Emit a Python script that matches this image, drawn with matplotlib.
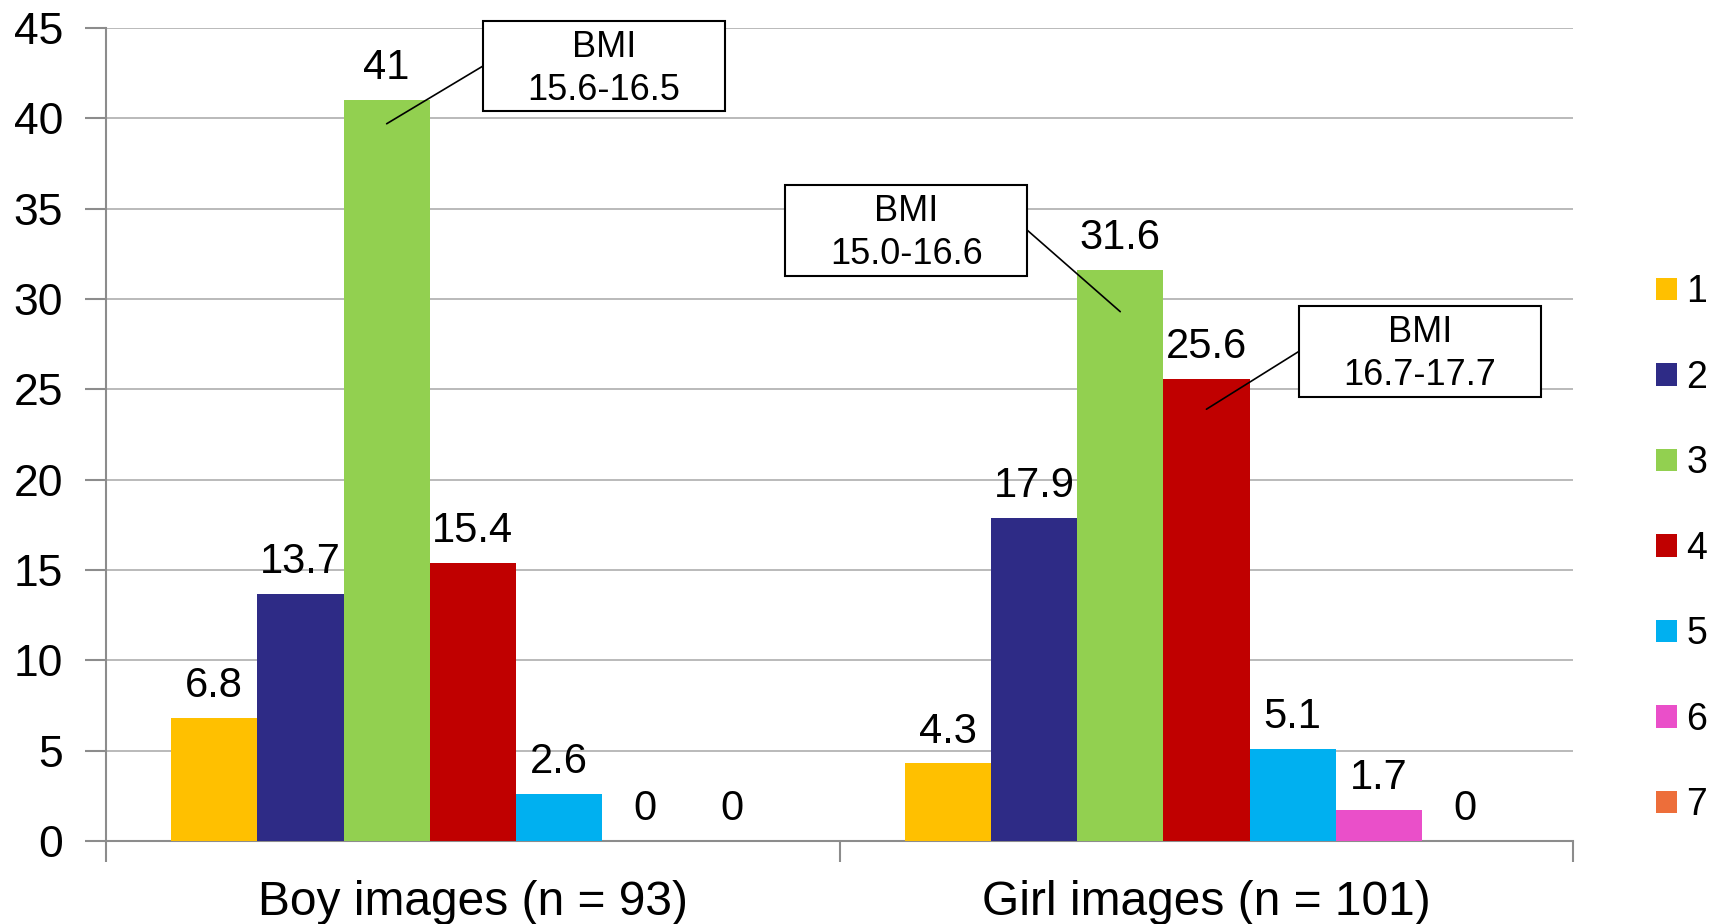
import numpy as np
import matplotlib
matplotlib.use("Agg")
import matplotlib.pyplot as plt
from matplotlib.patches import Rectangle

plt.rcParams['font.family'] = ['Liberation Sans', 'DejaVu Sans']

# data
groups = ['Boy images (n = 93)', 'Girl images (n = 101)']
series = ['1', '2', '3', '4', '5', '6', '7']
boy = [6.8, 13.7, 41, 15.4, 2.6, 0, 0]
girl = [4.3, 17.9, 31.6, 25.6, 5.1, 1.7, 0]
colors = ['#FFC000', '#2E2B86', '#92D050', '#C00000', '#00B0F0', '#EA4FC9', '#ED6E3A']

# BMI callouts: text, group, series index, box centre, point on bar, side of box
callouts = [
    ('BMI\n15.6-16.5', 0, 2, (0.179, 42.9), 39.7, 'left'),
    ('BMI\n15.0-16.6', 1, 2, (0.591, 33.8), 29.3, 'right'),
    ('BMI\n16.7-17.7', 1, 3, (1.291, 27.1), 23.9, 'left'),
]

fig = plt.figure(figsize=(17.19, 9.24), dpi=100)
ax = fig.add_axes([0.0617, 0.0898, 0.8535, 0.8799])

w = 0.1175
x = np.arange(len(groups))
values = np.array([boy, girl])
handles = []
for i, s in enumerate(series):
    pos = x + (i - 3) * w
    b = ax.bar(pos, values[:, i], width=w, color=colors[i], label=s, zorder=3)
    handles.append(b)
    for xp, v in zip(pos, values[:, i]):
        ax.annotate(f'{v:g}', (xp, v), xytext=(0, 15), textcoords='offset points',
                    ha='center', va='baseline', fontsize=30, zorder=5)

# axes styling
ax.set_ylim(0, 45)
ax.set_xlim(-0.5, 1.5)
ax.set_yticks(np.arange(0, 46, 5))
ax.yaxis.grid(True, color='#B4B4B4', lw=1.3, zorder=0)
ax.set_axisbelow(True)
ax.tick_params(axis='y', labelsize=32, length=15, width=1.5, color='#8C8C8C', pad=16)
ax.set_xticks([-0.5, 0.5, 1.5])
ax.set_xticklabels([])
ax.set_xticks(x, minor=True)
ax.set_xticklabels(groups, minor=True, fontsize=34.5)
ax.tick_params(axis='x', which='major', length=15, width=1.5, color='#8C8C8C')
ax.tick_params(axis='x', which='minor', length=0, pad=28)
for sp in ['top', 'right']:
    ax.spines[sp].set_visible(False)
for sp in ['left', 'bottom']:
    ax.spines[sp].set_color('#8C8C8C')
    ax.spines[sp].set_linewidth(1.5)

# callout boxes
bw, bh = 0.33, 5.0
for txt, g, si, (cx, cy), yend, side in callouts:
    ax.add_patch(Rectangle((cx - bw / 2, cy - bh / 2), bw, bh, facecolor='white',
                           edgecolor='black', lw=1.5, zorder=6, clip_on=False))
    ax.text(cx, cy - 0.15, txt, ha='center', va='center', fontsize=26, zorder=7,
            linespacing=1.3)
    ex = cx - bw / 2 if side == 'left' else cx + bw / 2
    ax.annotate('', xy=(g + (si - 3) * w, yend), xytext=(ex, cy),
                arrowprops=dict(arrowstyle='-', lw=1.2, color='black',
                                shrinkA=0, shrinkB=0), zorder=6)

fig.legend(handles=handles, labels=series, loc='center left',
           bbox_to_anchor=(0.9636, 0.406), frameon=False, fontsize=27,
           handlelength=0.55, handleheight=0.55, handletextpad=0.25,
           labelspacing=1.32, borderpad=0, borderaxespad=0)

fig.savefig('out.png', dpi=100)
